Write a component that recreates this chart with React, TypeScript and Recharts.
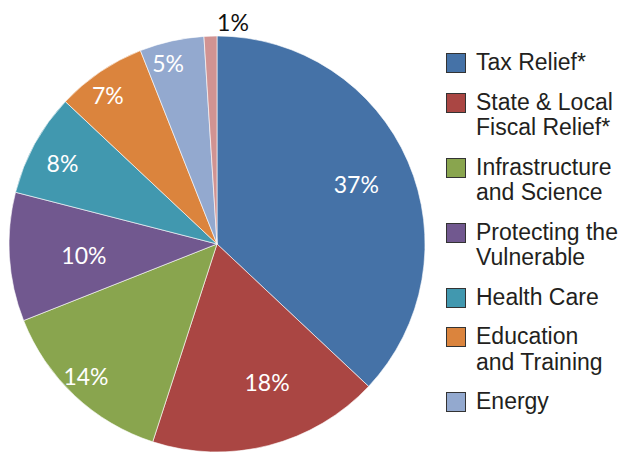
import React from 'react';
import { PieChart, Pie, Cell, Legend } from 'recharts';

const categories = [
  'Tax Relief*',
  'State & Local\nFiscal Relief*',
  'Infrastructure\nand Science',
  'Protecting the\nVulnerable',
  'Health Care',
  'Education\nand Training',
  'Energy',
  'Other',
];
const shares = [37, 18, 14, 10, 8, 7, 5, 1];
const colors = ['#4572A7', '#AA4643', '#89A54E', '#71588F', '#4198AF', '#DB843D', '#93A9CF', '#D19392'];
const labelRadiusFactor = [0.73, 0.707, 0.894, 0.642, 0.839, 0.889, 0.901, 1.07];
const labelAngleShift = [0, 5.5, -1.6, 1.1, 1.1, 2, 2.5, 0];

const data = categories.map((name, i) => ({ name, value: shares[i] }));

const RAD = Math.PI / 180;

const renderLabel = (props: any) => {
  const { cx, cy, midAngle, outerRadius, index, value } = props;
  const r = outerRadius * labelRadiusFactor[index];
  const a = midAngle + labelAngleShift[index];
  let x = cx + r * Math.cos(-a * RAD);
  const y = cy + r * Math.sin(-a * RAD);
  const outside = index === 7;
  if (outside) {
    x += 23;
  }
  return (
    <text
      x={x}
      y={y}
      fill={outside ? '#111' : '#fff'}
      textAnchor="middle"
      dominantBaseline="central"
      fontFamily="Lato, 'Open Sans', sans-serif"
      fontSize={23}
    >
      {`${value}%`}
    </text>
  );
};

const renderLegend = () => (
  <div style={{ fontFamily: "'Liberation Sans', Arial, sans-serif", fontSize: 23, color: '#231f20' }}>
    {categories.slice(0, 7).map((name, i) => (
      <div key={i} style={{ display: 'flex', alignItems: 'flex-start', marginBottom: 14 }}>
        <div
          style={{
            width: 18,
            height: 18,
            background: colors[i],
            border: '1px solid #333',
            marginTop: 3,
            marginRight: 10,
            flexShrink: 0,
          }}
        />
        <div style={{ lineHeight: '25.5px', whiteSpace: 'pre' }}>{name}</div>
      </div>
    ))}
  </div>
);

export default function App() {
  return (
    <div style={{ position: 'absolute', left: 0, top: 0, width: 624, height: 453, background: '#fff' }}>
      <PieChart width={624} height={453} margin={{ top: 0, right: 0, bottom: 0, left: 0 }}>
        <Pie
          data={data}
          dataKey="value"
          nameKey="name"
          cx={217}
          cy={244}
          outerRadius={208}
          startAngle={90}
          endAngle={-270}
          stroke="#ffffff"
          strokeWidth={0.6}
          label={renderLabel}
          labelLine={false}
          isAnimationActive={false}
        >
          {data.map((d, i) => (
            <Cell key={i} fill={colors[i]} />
          ))}
        </Pie>
        <Legend
          content={renderLegend}
          layout="vertical"
          verticalAlign="top"
          align="right"
          wrapperStyle={{ left: 446, top: 50, width: 178 }}
        />
      </PieChart>
    </div>
  );
}
